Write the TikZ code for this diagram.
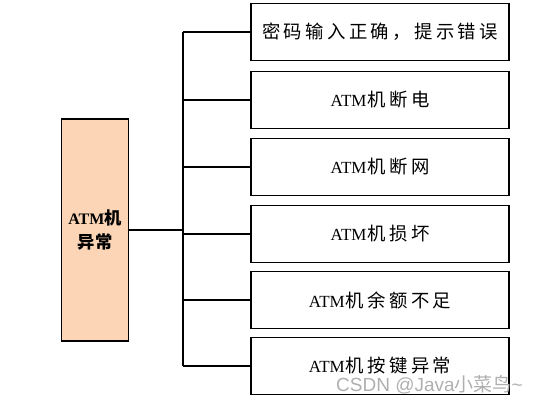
\documentclass[tikz,border=0pt]{standalone}
\usepackage{fontspec}
\setmainfont{Liberation Serif}
\newfontfamily\cjk[Scale=1.08]{Noto Sans CJK SC}
\newfontfamily\wmfont{Liberation Sans}
\newfontfamily\wmcjk{Noto Sans CJK SC}
\newcommand\gp{\hspace{3.4pt}}
\definecolor{peach}{RGB}{251,213,181}
\definecolor{wmgray}{RGB}{175,175,175}
\begin{document}
\begin{tikzpicture}[x=1pt,y=-1pt,
  box/.style={draw,line width=1.1pt,minimum width=258pt,minimum height=57pt,inner sep=0pt,
    font=\fontsize{17}{20}\selectfont},
  rootbox/.style={draw,line width=1.1pt,fill=peach,minimum width=67pt,minimum height=222pt,
    align=center,inner sep=0pt,font=\bfseries\fontsize{16}{24}\selectfont},
  ln/.style={line width=1.3pt}]
\useasboundingbox (0,0) rectangle (537,403);
\node[rootbox] (root) at (95,230) {ATM{\cjk\bfseries 机}\\{\cjk\bfseries 异常}};
\node[box] (b1) at (380,32)  {\cjk 密\gp 码\gp 输\gp 入\gp 正\gp 确\gp ，\gp 提\gp 示\gp 错\gp 误};
\node[box] (b2) at (380,100) {ATM\hspace{1pt}{\cjk 机\gp 断\gp 电}};
\node[box] (b3) at (380,167) {ATM\hspace{1pt}{\cjk 机\gp 断\gp 网}};
\node[box] (b4) at (380,234) {ATM\hspace{1pt}{\cjk 机\gp 损\gp 坏}};
\node[box] (b5) at (380,300) {ATM\hspace{1pt}{\cjk 机\gp 余\gp 额\gp 不\gp 足}};
\node[box] (b6) at (380,366) {ATM\hspace{1pt}{\cjk 机\gp 按\gp 键\gp 异\gp 常}};
\coordinate (tt) at (183,0);
\draw[ln] (root.east) -- (tt |- root.east);
\draw[ln] (tt |- b1.west) -- (tt |- b6.west);
\foreach \b in {b1,b2,b3,b4,b5,b6} {\draw[ln] (tt |- \b.west) -- (\b.west);}
\node[text=wmgray,anchor=base east,inner sep=0pt,font=\fontsize{19}{22}\selectfont] (wm) at (523,391)
  {\wmfont CSDN @Java{\wmcjk 小菜鸟}\textasciitilde};
\end{tikzpicture}
\end{document}
